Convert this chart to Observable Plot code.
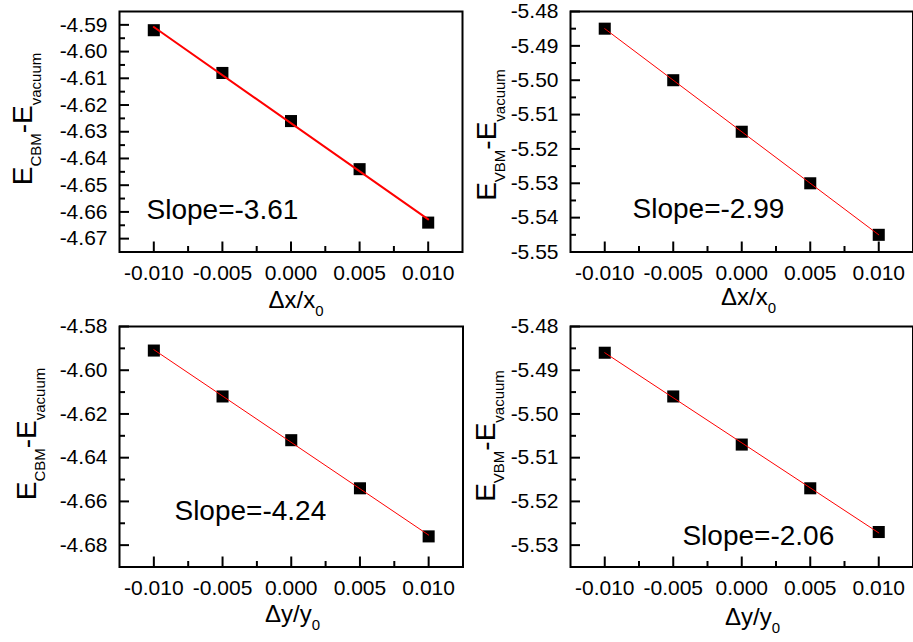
<!DOCTYPE html>
<html><head><meta charset="utf-8">
<script src="https://cdn.jsdelivr.net/npm/d3@7"></script>
<script src="https://cdn.jsdelivr.net/npm/@observablehq/plot@0.6"></script>
<style>
body{margin:0;background:#fff;}
#wrap{position:relative;width:913px;height:642px;overflow:hidden;background:#fff;}
</style></head><body><div id="wrap"></div>
<script>
// ---- data ----
const strain = [-0.010, -0.005, 0.000, 0.005, 0.010];
const cbmX = [-4.592, -4.608, -4.626, -4.644, -4.664];
const vbmX = [-5.485, -5.500, -5.515, -5.530, -5.545];
const cbmY = [-4.591, -4.612, -4.632, -4.654, -4.676];
const vbmY = [-5.486, -5.496, -5.507, -5.517, -5.527];
const slopeLabels = ["Slope=-3.61", "Slope=-2.99", "Slope=-4.24", "Slope=-2.06"];
const slopeX = [-0.01053, -0.00797, -0.0085, -0.00433];
const slopeY = [-4.6628, -5.540, -4.6683, -5.5299];
const xTicks = [-0.010, -0.005, 0.000, 0.005, 0.010];
const xMinor = [-0.0075, -0.0025, 0.0025, 0.0075];
const yTicks1 = [-4.59, -4.60, -4.61, -4.62, -4.63, -4.64, -4.65, -4.66, -4.67];
const yMinor1 = [-4.595, -4.605, -4.615, -4.625, -4.635, -4.645, -4.655, -4.665];
const yTicks2 = [-5.48, -5.49, -5.50, -5.51, -5.52, -5.53, -5.54, -5.55];
const yMinor2 = [-5.485, -5.495, -5.505, -5.515, -5.525, -5.535, -5.545];
const yTicks3 = [-4.58, -4.60, -4.62, -4.64, -4.66, -4.68];
const yMinor3 = [-4.59, -4.61, -4.63, -4.65, -4.67];
const yTicks4 = [-5.48, -5.49, -5.50, -5.51, -5.52, -5.53];
const yMinor4 = [-5.485, -5.495, -5.505, -5.515, -5.525];

const FONT = "'Liberation Sans', Arial, Helvetica, sans-serif";

const panels = [
  {vals: cbmX, yDomain: [-4.675, -4.585], yTicks: yTicks1, yMinor: yMinor1, sub: "CBM", xv: "x", lw: 2,
   left: 0, top: 0, width: 470, height: 321, mL: 119, mR: 8, mT: 11, mB: 69.5,
   yl: [32, 119], xl: [296, 308]},
  {vals: vbmX, yDomain: [-5.55, -5.48], yTicks: yTicks2, yMinor: yMinor2, sub: "VBM", xv: "x", lw: 1,
   left: 460, top: 0, width: 453, height: 321, mL: 110, mR: 0.5, mT: 11, mB: 69.5,
   yl: [36, 135], xl: [288.5, 305]},
  {vals: cbmY, yDomain: [-4.69, -4.58], yTicks: yTicks3, yMinor: yMinor3, sub: "CBM", xv: "y", lw: 1,
   left: 0, top: 300, width: 470, height: 342, mL: 119, mR: 7.5, mT: 26, mB: 75.5,
   yl: [36, 134], xl: [292.5, 321.7]},
  {vals: vbmY, yDomain: [-5.535, -5.48], yTicks: yTicks4, yMinor: yMinor4, sub: "VBM", xv: "y", lw: 1,
   left: 460, top: 300, width: 453, height: 342, mL: 110, mR: 0.5, mT: 26, mB: 75.5,
   yl: [35, 136], xl: [292.5, 325]}
];

const wrap = document.getElementById("wrap");

panels.forEach((p, i) => {
  const data = strain.map((s, k) => ({s, e: p.vals[k]}));
  const fw = p.width - p.mL - p.mR;
  const fh = p.height - p.mT - p.mB;
  const plot = Plot.plot({
    width: p.width, height: p.height,
    marginLeft: p.mL, marginRight: p.mR, marginTop: p.mT, marginBottom: p.mB,
    style: {fontFamily: FONT, fontSize: "21px", background: "transparent", overflow: "visible", color: "black"},
    x: {domain: [-0.0125, 0.0125]},
    y: {domain: p.yDomain},
    marks: [
      Plot.tickX(xTicks, {x: d => d, insetTop: fh - 10, stroke: "black", strokeWidth: 2}),
      Plot.tickX(xMinor, {x: d => d, insetTop: fh - 5.5, stroke: "black", strokeWidth: 2}),
      Plot.tickY(p.yTicks, {y: d => d, insetRight: fw - 10, stroke: "black", strokeWidth: 2}),
      Plot.tickY(p.yMinor, {y: d => d, insetRight: fw - 6, stroke: "black", strokeWidth: 2}),
      Plot.axisX({ticks: xTicks, tickSize: 0, tickPadding: 13, tickFormat: d => d.toFixed(3), fontSize: 21, label: null, fill: "black"}),
      Plot.axisY({ticks: p.yTicks, tickSize: 0, tickPadding: 12, tickFormat: d => d.toFixed(2), fontSize: 21, label: null, fill: "black"}),
      Plot.frame({stroke: "black", strokeWidth: 2}),
      Plot.dot(data, {x: "s", y: "e", symbol: "square", r: 6.8, fill: "black", stroke: null}),
      Plot.linearRegressionY(data, {x: "s", y: "e", stroke: "#ff0000", strokeWidth: p.lw, ci: 0}),
      Plot.text([slopeLabels[i]], {x: () => slopeX[i], y: () => slopeY[i], text: d => d, textAnchor: "start", lineAnchor: "bottom", fontSize: 28, fill: "black"})
    ]
  });
  plot.style.position = "absolute";
  plot.style.left = p.left + "px";
  plot.style.top = p.top + "px";
  const svg = d3.select(plot);
  // y label with subscripts
  const yl = svg.append("text")
    .attr("transform", `translate(${p.yl[0]},${p.yl[1]}) rotate(-90)`)
    .attr("text-anchor", "middle").attr("fill", "black")
    .style("font-family", FONT).style("font-size", "28px");
  yl.append("tspan").text("E");
  yl.append("tspan").attr("dy", 9).style("font-size", "15px").text(p.sub);
  yl.append("tspan").attr("dy", -9).text("-E");
  yl.append("tspan").attr("dy", 9).style("font-size", "15px").text("vacuum");
  // x label
  const xl = svg.append("text")
    .attr("x", p.xl[0]).attr("y", p.xl[1])
    .attr("text-anchor", "middle").attr("fill", "black")
    .style("font-family", FONT).style("font-size", "24px");
  xl.append("tspan").text("\u0394" + p.xv + "/" + p.xv);
  xl.append("tspan").attr("dy", 8).style("font-size", "15px").text("0");
  wrap.appendChild(plot);
});
</script></body></html>
